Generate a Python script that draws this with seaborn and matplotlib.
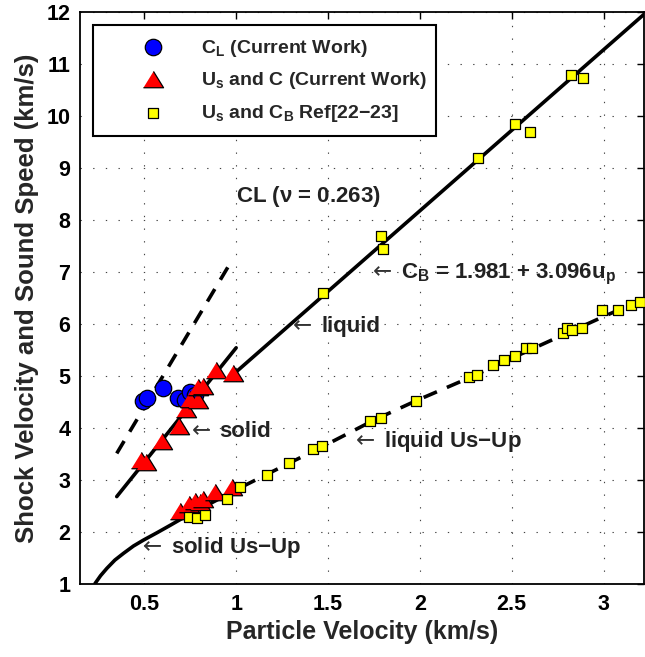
import numpy as np
import pandas as pd
import matplotlib
matplotlib.use("Agg")
import matplotlib.pyplot as plt
from matplotlib.transforms import offset_copy
import seaborn as sns

# ---------------- data (km/s) ----------------
# C_L, current work
cl_up = [0.495, 0.514, 0.600, 0.683, 0.723, 0.751, 0.778]
cl_c = [4.51, 4.58, 4.77, 4.58, 4.53, 4.69, 4.63]

# U_s and C, current work
tri_up = [0.481, 0.511, 0.596, 0.687, 0.729, 0.751, 0.790, 0.790, 0.820, 0.893, 0.984,
          0.696, 0.743, 0.778, 0.805, 0.822, 0.887, 0.978]
tri_val = [3.37, 3.33, 3.73, 4.02, 4.34, 4.53, 4.51, 4.76, 4.79, 5.09, 5.04,
           2.39, 2.52, 2.58, 2.55, 2.61, 2.74, 2.84]

# U_s and C_B, Ref[22-23]
ref_up = [0.741, 0.787, 0.833, 0.951, 1.023, 1.169, 1.287, 1.420, 1.469, 1.729, 1.791,
          1.978, 2.270, 2.310, 2.400, 2.460, 2.520, 2.580, 2.610, 2.780, 2.800, 2.830,
          2.880, 2.990, 3.080, 3.150, 3.200,
          1.472, 1.787, 1.800, 2.318, 2.520, 2.600, 2.820, 2.888]
ref_val = [2.29, 2.26, 2.32, 2.63, 2.86, 3.09, 3.32, 3.60, 3.65, 4.13, 4.20,
           4.52, 4.98, 5.02, 5.20, 5.30, 5.38, 5.53, 5.53, 5.82, 5.92, 5.88,
           5.93, 6.26, 6.26, 6.36, 6.42,
           6.59, 7.68, 7.44, 9.18, 9.85, 9.69, 10.79, 10.73]

# fitted curves
cb_a, cb_b = 1.981, 3.096            # C_B = a + b*u_p
cb_range = [0.98, 3.22]

solid_up = [0.35, 1.00]
solid_c = [2.68, 5.54]

cl_line_up = [0.35, 0.96]
cl_line_c = [3.51, 7.12]

solid_hug_up = [0.232, 0.262, 0.296, 0.340, 0.387, 0.441, 0.496, 0.569, 0.642,
                0.696, 0.850, 1.033]
solid_hug_us = [1.01, 1.16, 1.30, 1.46, 1.59, 1.73, 1.845, 1.985, 2.13,
                2.24, 2.53, 2.87]

liquid_hug_up = [1.033, 1.287, 1.470, 1.750, 1.978, 2.260, 2.600, 3.000, 3.220]
liquid_hug_us = [2.87, 3.32, 3.64, 4.15, 4.52, 4.95, 5.50, 6.14, 6.48]

xticks = [0.5, 1, 1.5, 2, 2.5, 3]
xticklabels = ["0.5", "1", "1.5", "2", "2.5", "3"]
yticks = list(range(1, 13))

# ---------------- style ----------------
sns.set_theme(style="white")
plt.rcParams["font.family"] = ["Liberation Sans", "DejaVu Sans"]
plt.rcParams["font.weight"] = "bold"
plt.rcParams["mathtext.fontset"] = "custom"
plt.rcParams["mathtext.rm"] = "Liberation Sans"
plt.rcParams["mathtext.it"] = "Liberation Sans"
plt.rcParams["mathtext.bf"] = "Liberation Sans:bold"
plt.rcParams["mathtext.default"] = "bf"

fig = plt.figure(figsize=(6.45, 6.57), dpi=100)
ax = fig.add_axes([80 / 645, 1 - 584 / 657, 564 / 645, 572.3 / 657])

LW = 2.6
dash = (0, (4, 3))

# lines
cb_df = pd.DataFrame({"up": cb_range, "c": [cb_a + cb_b * u for u in cb_range]})
sns.lineplot(data=cb_df, x="up", y="c", ax=ax, color="black", lw=LW,
             sort=False, estimator=None)
sns.lineplot(x=solid_up, y=solid_c, ax=ax, color="black", lw=LW,
             sort=False, estimator=None)
sns.lineplot(x=cl_line_up, y=cl_line_c, ax=ax, color="black", lw=LW,
             linestyle=dash, sort=False, estimator=None)
sns.lineplot(x=solid_hug_up, y=solid_hug_us, ax=ax, color="black", lw=LW,
             sort=False, estimator=None)
sns.lineplot(x=liquid_hug_up, y=liquid_hug_us, ax=ax, color="black", lw=LW,
             linestyle=dash, sort=False, estimator=None)

# markers
tri_marker = [(-1, -0.72), (1, -0.72), (0, 0.9)]
sns.scatterplot(x=cl_up, y=cl_c, ax=ax, marker="o", s=140, color="#0000ff",
                edgecolor="black", linewidth=0.9, zorder=3,
                label=r"C$_\mathbf{L}$ (Current Work)")
sns.scatterplot(x=tri_up, y=tri_val, ax=ax, marker=tri_marker, s=210,
                color="#ff0000", edgecolor="black", linewidth=0.9, zorder=4,
                label=r"U$_\mathbf{s}$ and C (Current Work)")
sns.scatterplot(x=ref_up, y=ref_val, ax=ax, marker="s", s=42, color="#ffff00",
                edgecolor="black", linewidth=0.9, zorder=5,
                label=r"U$_\mathbf{s}$ and C$_\mathbf{B}$ Ref[22$\mathbf{-}$23]")

# axes
ax.set_xlim(0.15, 3.22)
ax.set_ylim(1, 12)
ax.set_xticks(xticks)
ax.set_xticklabels(xticklabels)
ax.set_yticks(yticks)
ax.tick_params(direction="in", length=5, width=1, top=True, right=True,
               labelsize=15.5, pad=7, colors="black")
for lab in ax.get_xticklabels() + ax.get_yticklabels():
    lab.set_fontweight("bold")
for sp in ax.spines.values():
    sp.set_visible(True)
    sp.set_color("black")
    sp.set_linewidth(1.3)
ax.grid(True, color="#444444", linestyle=(0, (1.2, 10.2)), linewidth=0.8)
ax.set_axisbelow(True)

ax.set_xlabel("Particle Velocity (km/s)", fontsize=18, fontweight="bold",
              labelpad=4)
ax.set_ylabel("Shock Velocity and Sound Speed (km/s)", fontsize=18.5,
              fontweight="bold", labelpad=5)

# annotations: a thin arrow glyph followed by a bold label
tc = "#222222"
fs = 16


def arrow_label(x, y, label):
    ax.text(x, y, "\u2190", fontsize=16.5, family="DejaVu Sans",
            fontweight="normal", color="#333333", va="baseline", ha="left")
    ax.text(x, y, label, fontsize=fs, color=tc, fontweight="bold",
            va="baseline", ha="left",
            transform=offset_copy(ax.transData, fig=fig, x=28, y=0, units="dots"))


ax.text(1.0, 8.34, r"CL ($\mathrm{\nu}$ = 0.263)", fontsize=fs, color=tc,
        fontweight="bold", va="baseline", ha="left")
arrow_label(1.745, 6.87, r"C$_\mathbf{B}$ = 1.981 + 3.096u$_\mathbf{p}$")
arrow_label(1.31, 5.84, "liquid")
arrow_label(0.758, 3.83, "solid")
arrow_label(0.494, 1.60, r"solid Us$\mathbf{-}$Up")
arrow_label(1.654, 3.635, r"liquid Us$\mathbf{-}$Up")

# legend
leg = ax.legend(loc="upper left", bbox_to_anchor=(0.023, 0.785, 0.609, 0.192),
                mode="expand", fontsize=14, frameon=True, fancybox=False,
                edgecolor="black", framealpha=1, borderpad=0.65,
                handlelength=4.9, handletextpad=0.0, labelspacing=0.6,
                borderaxespad=0)
leg.get_frame().set_linewidth(1.5)
for t in leg.get_texts():
    t.set_fontweight("bold")

fig.savefig("out.png", dpi=100)
